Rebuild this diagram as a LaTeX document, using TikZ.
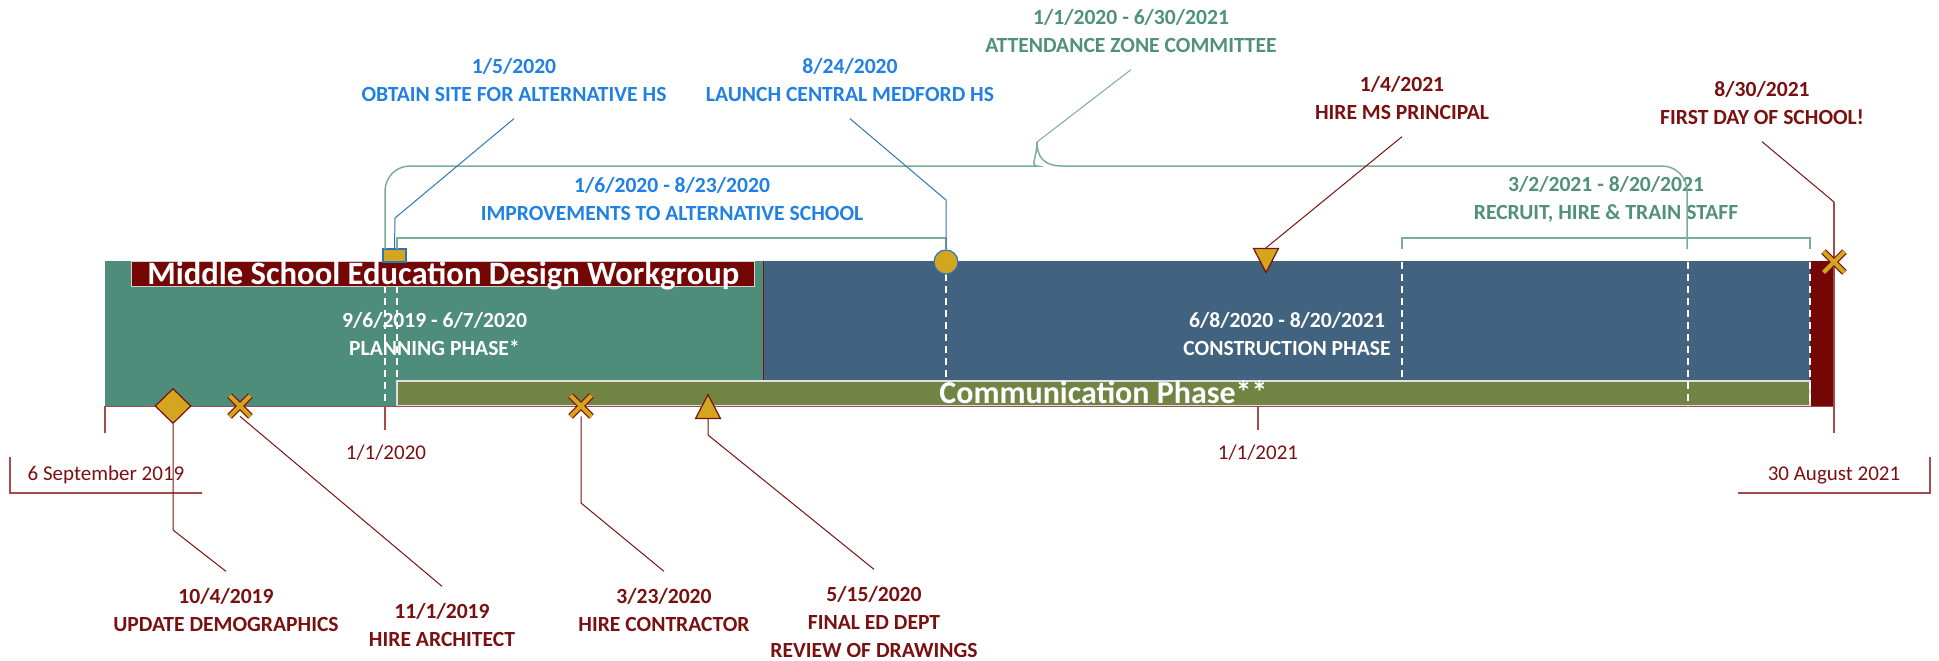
\documentclass[tikz,border=0pt]{standalone}
\usepackage{fontspec}
\setmainfont{Carlito}
\usetikzlibrary{shapes.geometric}

\definecolor{plangreen}{RGB}{78,141,121}
\definecolor{buildblue}{RGB}{66,99,128}
\definecolor{commolive}{RGB}{113,132,67}
\definecolor{wgred}{RGB}{117,6,6}
\definecolor{labelred}{RGB}{122,16,16}
\definecolor{tickred}{RGB}{163,76,76}
\definecolor{markgold}{RGB}{212,166,32}
\definecolor{hsblue}{RGB}{31,128,230}
\definecolor{lineblue}{RGB}{46,117,182}
\definecolor{zonegreen}{RGB}{80,145,120}
\definecolor{bracegreen}{RGB}{122,174,154}

\tikzset{
  phase/.style={rectangle, minimum height=72.5pt, inner sep=0pt, text=white,
    font=\fontsize{10.8}{14}\selectfont\bfseries, align=center},
  banner/.style={rectangle, inner sep=0pt, text=white, text height=10.3pt, text depth=0pt,
    font=\fontsize{16}{18}\selectfont\bfseries},
  lbl/.style={font=\fontsize{10.8}{14}\selectfont\bfseries, align=center, inner sep=2pt, outer sep=6.5pt},
  datelbl/.style={font=\fontsize{10.5}{12}\selectfont, text=labelred, inner sep=0pt},
  leadred/.style={draw=labelred, line width=0.5pt},
  leadblue/.style={draw=lineblue, line width=0.5pt},
  leadgreen/.style={draw=bracegreen, line width=0.75pt},
  gridline/.style={draw=white, line width=0.6pt, dash pattern=on 3.5pt off 2.5pt},
  tickline/.style={draw=tickred, line width=0.75pt},
  marker/.style={fill=markgold, draw=labelred, line width=0.6pt, inner sep=0pt},
  xmark/.style={rectangle, minimum size=10pt, inner sep=0pt},
  xedge/.style={draw=labelred, line width=3.2pt},
  xfill/.style={draw=markgold, line width=2pt},
}

\begin{document}
\begin{tikzpicture}[x=0.5pt,y=-0.5pt]
    \useasboundingbox (0,0) rectangle (1939,660);

    % phases (bars)
    \node[phase, fill=plangreen, minimum width=329.5pt] (plan) at (434.5,333.5) {9/6/2019 - 6/7/2020\\PLANNING PHASE*};
    \node[phase, fill=buildblue, minimum width=523pt] (build) at (1287,333.5) {6/8/2020 - 8/20/2021\\CONSTRUCTION PHASE};
    \node[rectangle, fill=wgred, minimum width=12pt, minimum height=72.5pt, inner sep=0pt] (opening) at (1822,333.5) {};
    \draw[labelred, line width=0.4pt] (build.north west) -- (build.south west);
    \draw[tickred, line width=0.5pt] (plan.south west) -- (opening.south east); % timeline
    \node[banner, fill=commolive, draw=gray!25, line width=0.75pt, minimum width=706.5pt, minimum height=12.25pt] (comm) at (1103.5,393.3) {Communication Phase**};

    % dashed date lines
    \draw[gridline] (385,262) -- (385,406);
    \draw[gridline] (397,262) -- (397,381);
    \draw[gridline] (946,274) -- (946,381);
    \draw[gridline] (1402,262) -- (1402,381);
    \draw[gridline] (1688,262) -- (1688,406);
    \draw[gridline] (1810,262) -- (1810,406);

    \node[banner, fill=wgred, draw=gray!35, line width=0.6pt, minimum width=311.5pt, minimum height=12.5pt,
      font=\fontsize{16.3}{18}\selectfont\bfseries] (workgroup) at (443.3,274.2) {Middle School Education Design Workgroup};

    % axis ticks and dates
    \draw[tickline] (105,406) -- (105,433);
    \draw[tickline] (385,406) -- (385,430);
    \draw[tickline] (1258,406) -- (1258,430);
    \draw[tickline] (1834,202) -- (1834,433);
    \node[datelbl] (d2020) at (386,453) {1/1/2020};
    \node[datelbl] (d2021) at (1258,453) {1/1/2021};
    \node[datelbl] (dstart) at (106,475) {6 September 2019};
    \node[datelbl] (dend) at (1834,475) {30 August 2021};
    \draw[tickline] (10,457) -- (10,493) -- (202,493); % start bracket
    \draw[tickline] (1738,493) -- (1930,493) -- (1930,457); % end bracket

    % labels
    \node[lbl, text=hsblue] (obtainlbl) at (514,80) {1/5/2020\\OBTAIN SITE FOR ALTERNATIVE HS};
    \node[lbl, text=hsblue] (launchlbl) at (850,80) {8/24/2020\\LAUNCH CENTRAL MEDFORD HS};
    \node[lbl, text=hsblue] (improvelbl) at (672,199) {1/6/2020 - 8/23/2020\\IMPROVEMENTS TO ALTERNATIVE SCHOOL};
    \node[lbl, text=zonegreen] (zonelbl) at (1131,31) {1/1/2020 - 6/30/2021\\ATTENDANCE ZONE COMMITTEE};
    \node[lbl, text=zonegreen] (recruitlbl) at (1606,199) {3/2/2021 - 8/20/2021\\RECRUIT, HIRE \& TRAIN STAFF};
    \node[lbl, text=labelred] (principallbl) at (1402,98) {1/4/2021\\HIRE MS PRINCIPAL};
    \node[lbl, text=labelred] (firstlbl) at (1762,103) {8/30/2021\\FIRST DAY OF SCHOOL!};
    \node[lbl, text=labelred] (demolbl) at (226,610) {10/4/2019\\UPDATE DEMOGRAPHICS};
    \node[lbl, text=labelred] (archlbl) at (442,625) {11/1/2019\\HIRE ARCHITECT};
    \node[lbl, text=labelred] (contrlbl) at (664,610) {3/23/2020\\HIRE CONTRACTOR};
    \node[lbl, text=labelred] (reviewlbl) at (874,622) {5/15/2020\\FINAL ED DEPT\\REVIEW OF DRAWINGS};

    % milestone markers
    \node[marker, draw=lineblue, rectangle, minimum width=11.5pt, minimum height=6.5pt] (site) at (394.5,255.5) {};
    \node[marker, draw=lineblue, circle, minimum size=12pt] (launch) at (946,262) {};
    \node[marker, isosceles triangle, shape border rotate=270, isosceles triangle stretches,
      minimum width=12.5pt, minimum height=12pt, anchor=apex] (principal) at (1266,274) {};
    \node[marker, isosceles triangle, shape border rotate=90, isosceles triangle stretches,
      minimum width=12.5pt, minimum height=12pt, anchor=apex] (review) at (708,393) {};
    \node[marker, diamond, minimum width=18pt, minimum height=17.5pt] (demo) at (173,406) {};
    \node[xmark] (archx) at (240,406) {};
    \node[xmark] (contrx) at (581,406) {};
    \node[xmark] (firstx) at (1834,262) {};
    \coordinate (az-l) at (385,249);
    \coordinate (az-r) at (1687,249);
    \coordinate (az-tip) at (1037,142);

    % brackets
    \draw[leadgreen] (397,249) -- (397,238) -- (946,238) -- (946,249); % improvements
    \draw[leadgreen] (1402,249) -- (1402,238) -- (1810,238) -- (1810,249); % recruit
    \draw[leadgreen] (az-l) [rounded corners=12.5pt] -- (385,166) -- (1012,166) [sharp corners]
      .. controls (1030,166) and (1037,157) .. (az-tip)
      .. controls (1037,157) and (1044,166) .. (1062,166) [rounded corners=12.5pt] -- (1687,166) -- (az-r); % attendance zone

    % leaders
    \draw[leadblue] (obtainlbl.south) -- (395,218) -- (site.north); % obtain site
    \draw[leadblue] (launchlbl.south) -- (946,200) -- (launch.north); % launch
    \draw[leadgreen, line width=0.5pt] (zonelbl.south) -- (az-tip); % attendance zone
    \draw[leadred] (principallbl.south) -- (principal.lower side); % hire principal
    \draw[leadred] (firstlbl.south) -- (1834,202); % first day
    \draw[leadred] (demo.south) -- (173,530) -- (demolbl.north); % demographics
    \draw[leadred] (archx.south) -- (archlbl.north); % architect
    \draw[leadred] (contrx.south) -- (581,503) -- (contrlbl.north); % contractor
    \draw[leadred] (review.lower side) -- (708,435) -- (reviewlbl.north); % drawings review

    % cross markers
    \foreach \m in {archx,contrx,firstx}{
      \draw[xedge] (\m.north west) -- (\m.south east) (\m.north east) -- (\m.south west);
      \draw[xfill] (\m.north west) -- (\m.south east) (\m.north east) -- (\m.south west);
    }

\end{tikzpicture}
\end{document}
